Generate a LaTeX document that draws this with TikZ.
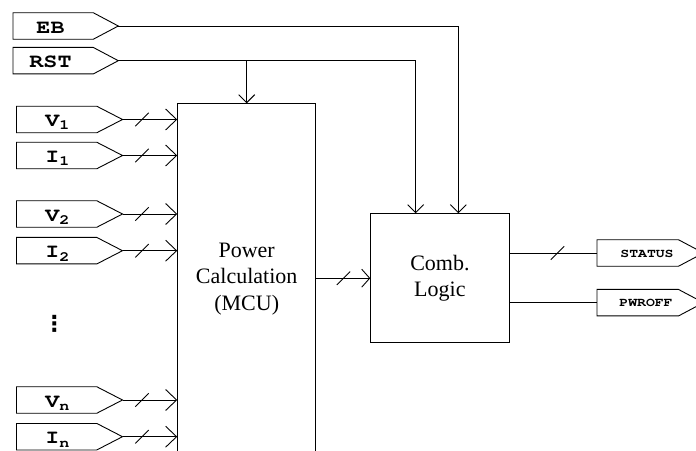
\documentclass[tikz,border=0pt]{standalone}
\usepackage[T1,TU]{fontenc}
\usepackage{fontspec}
\setmainfont{Liberation Serif}
\newfontfamily\symfont{DejaVu Sans}
\usepackage{graphicx}
\usetikzlibrary{arrows.meta,decorations.markings}
\newcommand\portfont{\fontencoding{T1}\fontfamily{pcr}\fontseries{b}\fontshape{n}\selectfont}
\newcommand\pbig[1]{\scalebox{1.2}[1]{\fontsize{19.5bp}{20bp}\portfont #1}}
\newcommand\psmall[1]{\scalebox{1.2}[1]{\fontsize{12.3bp}{13bp}\portfont #1}}
\newcommand\psub[1]{\raisebox{-3.3bp}{\fontsize{14bp}{14bp}\portfont #1}}
\newcommand\prt[8]{%
  \draw (#2,#5-13.25) -- (#3,#5-13.25) -- (#4,#5) -- (#3,#5+13.25) -- (#2,#5+13.25) -- cycle;
  \coordinate (#1-in) at (#2,#5);
  \coordinate (#1-tip) at (#4,#5);
  \node[anchor=base, inner sep=0pt] (#1) at (#6,#5+#7) {#8};
}
\tikzset{
  bigarr/.style={-{Straight Barb[length=11bp,width=21bp]}},
  smarr/.style={-{Straight Barb[length=8bp,width=16bp]}},
  medarr/.style={-{Straight Barb[length=8bp,width=18bp]}},
  bus/.style={postaction={decorate,decoration={markings,
     mark=at position #1 with {\draw[-] (-6.7bp,-6.7bp) -- (6.7bp,6.7bp);}}}},
  block/.style={draw, inner sep=0pt},
  serifbig/.style={font={\fontsize{22bp}{26.3bp}\selectfont}, align=center}
}
\begin{document}
\begin{tikzpicture}[x=1bp,y=-1bp,line width=0.9bp]
\useasboundingbox (0,0) rectangle (696,451);
\fill[white] (0,0) rectangle (696,451);
\clip (0,0) rectangle (696,451);

% blocks
\node[block, minimum width=138bp, minimum height=380bp, anchor=north] (mcu) at (246.7,103.3) {};
\node[serifbig] (mcutext) at (246.7,279) {Power\\Calculation\\(MCU)};
\node[block, serifbig, minimum width=138.3bp, minimum height=129bp] (comb) at (439.9,278.2) {Comb.\\Logic};

% ports
\prt{eb}{13}{93.3}{118.3}{26}{50.5}{7.3}{\pbig{EB}}
\prt{rst}{13}{93.3}{118.3}{60.7}{50.5}{7.3}{\pbig{RST}}
\prt{v1}{16.5}{96.8}{122.5}{119.5}{57.5}{7.2}{\pbig{V\psub{1}}}
\prt{i1}{16.5}{96.8}{122.5}{155.5}{57.5}{7.2}{\pbig{I\psub{1}}}
\prt{v2}{16.5}{96.8}{122.5}{214}{57.5}{7.2}{\pbig{V\psub{2}}}
\prt{i2}{16.5}{96.8}{122.5}{250.7}{57.5}{7.2}{\pbig{I\psub{2}}}
\prt{vn}{16.5}{96.8}{122.5}{400}{57.5}{7.2}{\pbig{V\psub{n}}}
\prt{in}{16.5}{96.8}{122.5}{436.7}{57.5}{7.2}{\pbig{I\psub{n}}}
\prt{status}{597}{678.5}{703.5}{253}{647}{4.3}{\psmall{STATUS}}
\prt{pwroff}{597}{678.5}{703.5}{302.7}{646}{4}{\psmall{PWROFF}}

\node[inner sep=0pt] (dots) at (54.3,324) {\fontsize{22bp}{22bp}\symfont\bfseries ⋮};

% connectors
\foreach \p in {v1,i1,v2,i2,vn,in}
  \draw[bigarr, bus=19.5bp] (\p-tip) -- (\p-tip -| mcu.west);
\draw[smarr] (rst-tip -| mcu.north) -- (mcu.north);
\draw[smarr] (eb-tip) -| ([xshift=18.4bp]comb.north);
\draw[smarr] (rst-tip) -| ([xshift=-24.2bp]comb.north);
\draw[medarr, bus=27.3bp] (comb.west -| mcu.east) -- (comb.west);
\draw[bus=48bp] (comb.east |- status-in) -- (status-in);
\draw (comb.east |- pwroff-in) -- (pwroff-in);
\end{tikzpicture}
\end{document}
